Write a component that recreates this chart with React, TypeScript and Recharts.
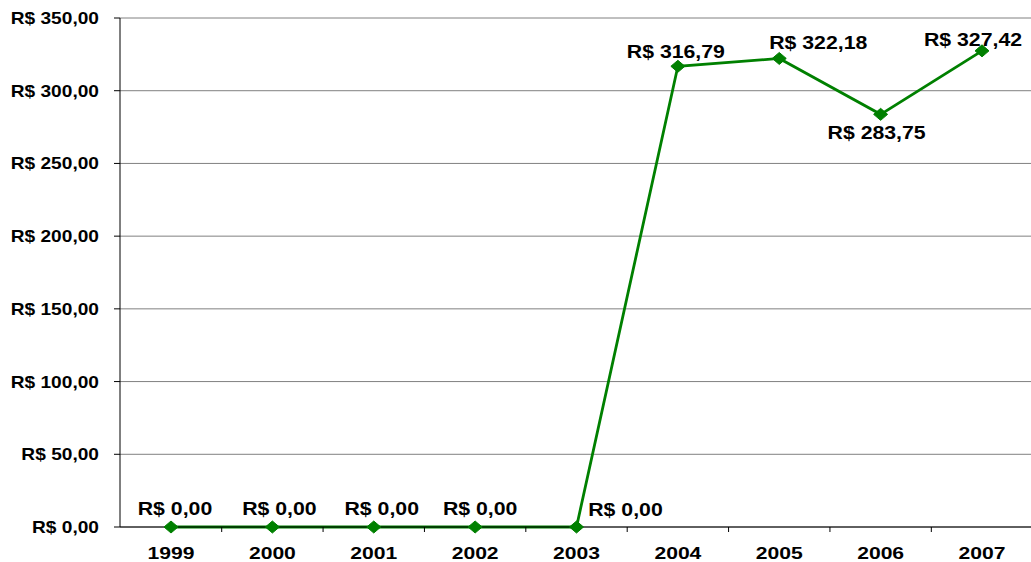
import { LineChart, Line, XAxis, YAxis, CartesianGrid, LabelList } from "recharts";

const years = ["1999", "2000", "2001", "2002", "2003", "2004", "2005", "2006", "2007"];
const values = [0, 0, 0, 0, 0, 316.79, 322.18, 283.75, 327.42];
const yTicks = [0, 50, 100, 150, 200, 250, 300, 350];

const data = years.map((year, i) => ({ year, value: values[i] }));

// layout
const W = 1031;
const H = 562;
const Y_AXIS_W = 120;
const PAD = 51;
const MARGIN_RIGHT = -2;
const PLOT_W = W - Y_AXIS_W - MARGIN_RIGHT;
const STEP = (PLOT_W - 2 * PAD) / (years.length - 1);

// label offsets from each point (text centre), like the Excel placement
const labelOffsets: [number, number][] = [
  [4, -19],
  [7, -19],
  [8, -19],
  [5, -19],
  [49, -18],
  [-2, -15],
  [39, -16],
  [-4, 18],
  [-9, -12],
];

const FONT = "'Liberation Sans', Arial, sans-serif";
const GREEN = "#008000";

const fmt = (v: number) =>
  "R$ " + v.toFixed(2).replace(".", ",").replace(/\B(?=(\d{3})+(?!\d))/g, ".");

function YTick(props: any) {
  const { x, y, payload } = props;
  return (
    <g transform={`translate(${x},${y}) scale(1.16,1)`}>
      <text x={0} y={0} dy="0.36em" textAnchor="end" fontFamily={FONT} fontWeight="bold" fontSize={16.5} fill="#000">
        {fmt(payload.value)}
      </text>
    </g>
  );
}

function XTick(props: any) {
  const { x, y, payload, index } = props;
  return (
    <g>
      {index < years.length - 1 && (
        <line x1={x + STEP / 2} x2={x + STEP / 2} y1={y} y2={y + 5} stroke="#000" strokeWidth={1} />
      )}
      <g transform={`translate(${x},${y + 26}) scale(1.28,1)`}>
        <text x={0} y={0} dy="0.36em" textAnchor="middle" fontFamily={FONT} fontWeight="bold" fontSize={16.5} fill="#000">
          {payload.value}
        </text>
      </g>
    </g>
  );
}

function Diamond(props: any) {
  const { cx, cy, index } = props;
  if (cx == null || cy == null) return null;
  return (
    <polygon
      key={index}
      points={`${cx - 7},${cy} ${cx},${cy - 6} ${cx + 7},${cy} ${cx},${cy + 6}`}
      fill={GREEN}
      stroke={GREEN}
      strokeWidth={1}
    />
  );
}

function ValueLabel(props: any) {
  const { x, y, value, index } = props;
  const [dx, dy] = labelOffsets[index] || [0, -18];
  return (
    <g transform={`translate(${x + dx},${y + dy}) scale(1.15,1)`}>
      <text x={0} y={0} dy="0.36em" textAnchor="middle" fontFamily={FONT} fontWeight="bold" fontSize={18.5} fill="#000">
        {fmt(Number(value))}
      </text>
    </g>
  );
}

export default function App() {
  return (
    <div style={{ position: "absolute", left: 0, top: 0, width: W, height: H, background: "#fff", overflow: "hidden" }}>
      <LineChart width={W} height={H} data={data} margin={{ top: 18, right: MARGIN_RIGHT, bottom: 0, left: 0 }}>
        <CartesianGrid vertical={false} stroke="#808080" strokeWidth={1} />
        <XAxis
          dataKey="year"
          height={35}
          padding={{ left: PAD, right: PAD }}
          axisLine={{ stroke: "#000", strokeWidth: 1 }}
          tickLine={false}
          tickSize={0}
          tickMargin={0}
          tick={<XTick />}
          interval={0}
        />
        <YAxis
          width={Y_AXIS_W}
          domain={[0, 350]}
          ticks={yTicks}
          interval={0}
          axisLine={{ stroke: "#000", strokeWidth: 1 }}
          tickLine={{ stroke: "#000", strokeWidth: 1 }}
          tickSize={6}
          tickMargin={15}
          tick={<YTick />}
        />
        <Line
          type="linear"
          dataKey="value"
          stroke={GREEN}
          strokeWidth={2.8}
          dot={<Diamond />}
          activeDot={false}
          isAnimationActive={false}
        >
          <LabelList dataKey="value" content={<ValueLabel />} />
        </Line>
      </LineChart>
    </div>
  );
}
